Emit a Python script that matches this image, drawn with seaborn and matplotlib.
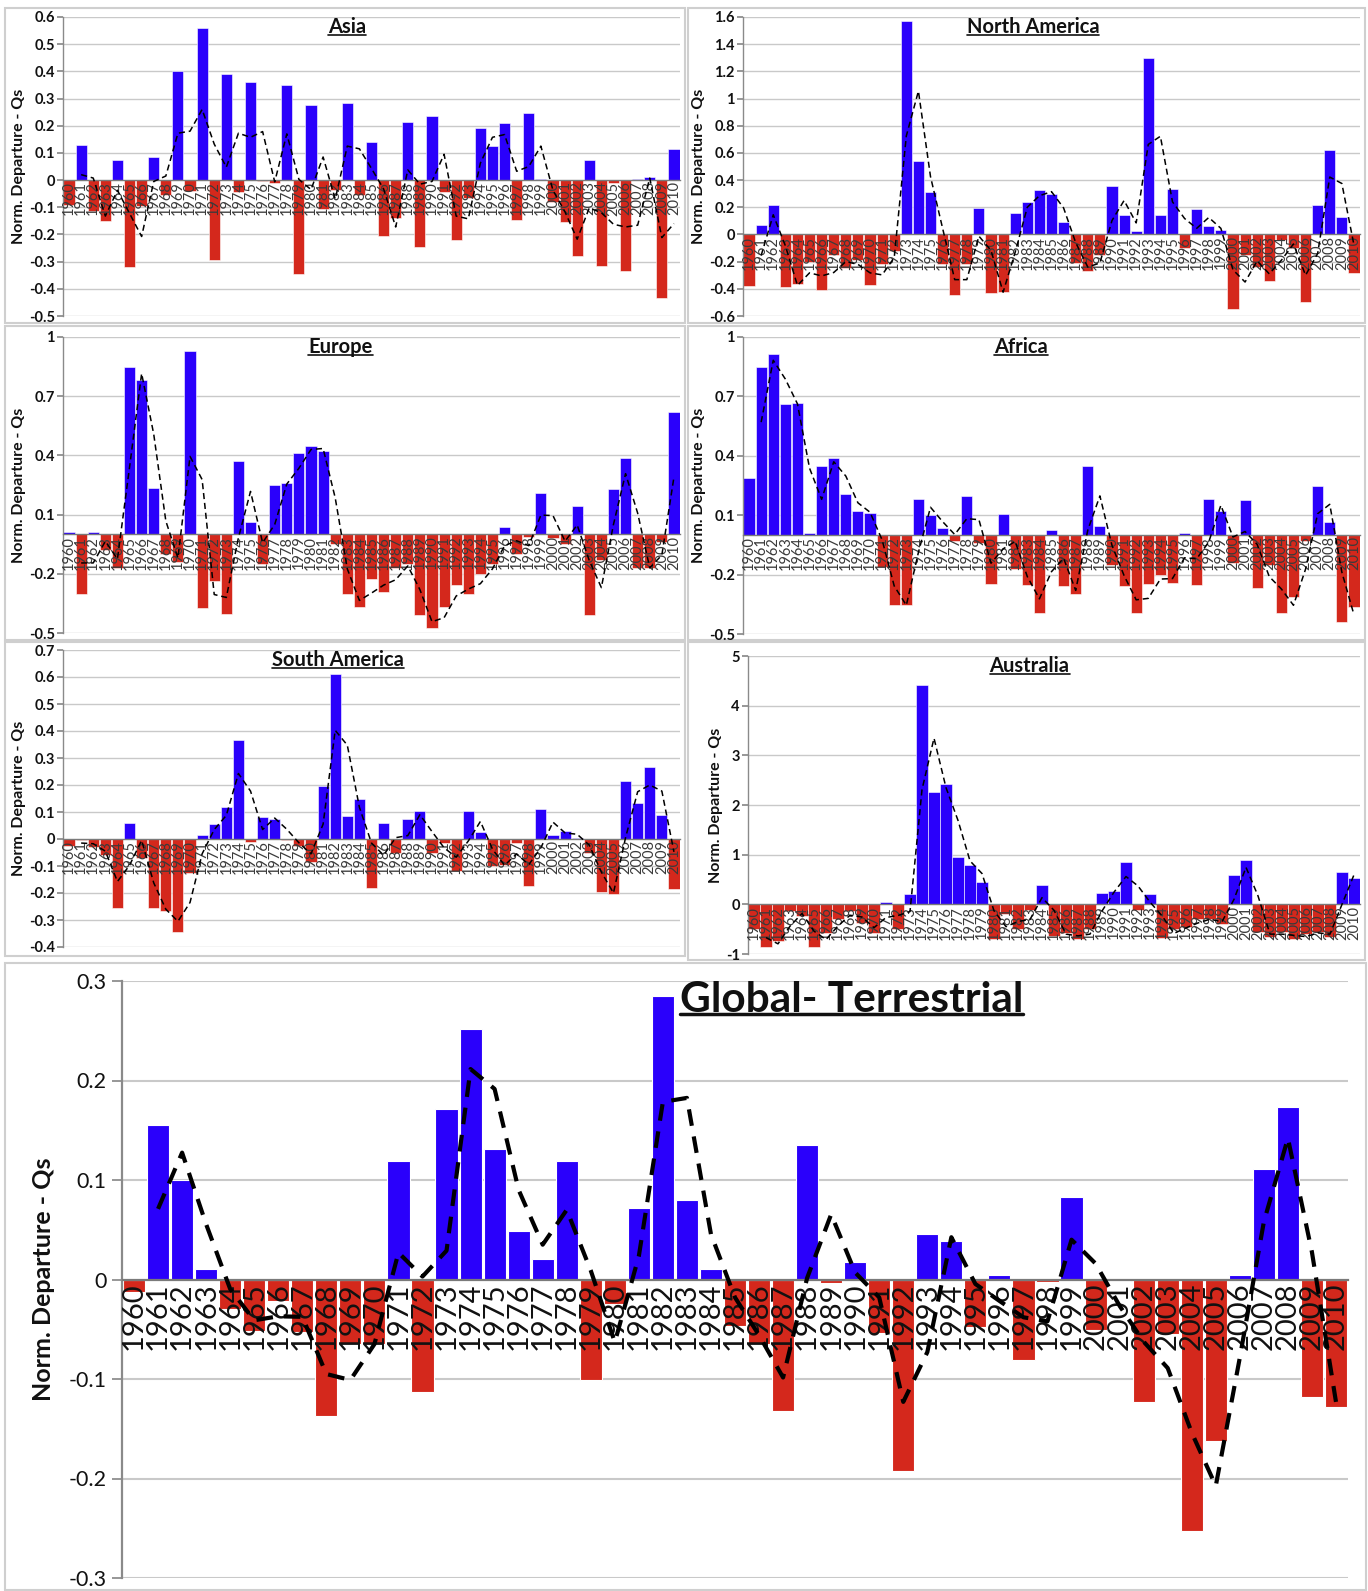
import numpy as np
import pandas as pd
import matplotlib
matplotlib.use("Agg")
import matplotlib.pyplot as plt
import seaborn as sns
from matplotlib.patches import Rectangle
from matplotlib.lines import Line2D

years = list(range(1960, 2011))

asia = [-0.09, 0.13, -0.115, -0.15, 0.075, -0.32, -0.095, 0.085, -0.055, 0.40,
        -0.04, 0.56, -0.295, 0.39, -0.045, 0.36, -0.003, -0.01, 0.35, -0.345,
        0.275, -0.105, -0.035, 0.285, -0.055, 0.14, -0.205, -0.14, 0.215, -0.245,
        0.235, -0.045, -0.22, -0.065, 0.19, 0.125, 0.21, -0.145, 0.245, 0.005,
        -0.08, -0.155, -0.28, 0.075, -0.315, -0.01, -0.335, 0.003, 0.012, -0.435,
        0.115]

north_america = [-0.38, 0.07, 0.22, -0.385, -0.365, -0.2, -0.41, -0.15, -0.25, -0.19,
                 -0.375, -0.22, -0.12, 1.57, 0.54, 0.31, -0.22, -0.445, -0.22, 0.195,
                 -0.43, -0.42, 0.16, 0.24, 0.33, 0.30, 0.09, -0.21, -0.27, -0.15,
                 0.355, 0.145, 0.025, 1.30, 0.145, 0.335, -0.1, 0.19, 0.06, 0.03,
                 -0.55, -0.15, -0.24, -0.34, -0.04, -0.1, -0.5, 0.22, 0.625, 0.125,
                 -0.28]

europe = [0.01, -0.30, 0.01, -0.08, -0.17, 0.85, 0.78, 0.235, -0.10, -0.14,
          0.93, -0.375, -0.235, -0.405, 0.37, 0.065, -0.15, 0.25, 0.26, 0.41,
          0.45, 0.42, -0.05, -0.30, -0.37, -0.225, -0.29, -0.17, -0.15, -0.41,
          -0.475, -0.37, -0.255, -0.30, -0.20, -0.15, 0.035, -0.10, -0.015, 0.21,
          -0.02, -0.05, 0.145, -0.41, -0.13, 0.23, 0.385, -0.17, -0.17, -0.04,
          0.62]

africa = [0.29, 0.85, 0.915, 0.66, 0.665, 0.01, 0.35, 0.39, 0.205, 0.12,
          0.11, -0.16, -0.355, -0.355, 0.18, 0.10, 0.035, -0.03, 0.195, -0.04,
          -0.245, 0.105, -0.17, -0.25, -0.395, 0.025, -0.26, -0.30, 0.35, 0.045,
          -0.15, -0.26, -0.395, -0.245, -0.20, -0.24, 0.01, -0.25, 0.18, 0.12,
          -0.14, 0.175, -0.27, -0.15, -0.395, -0.315, -0.03, 0.245, 0.065, -0.44,
          -0.365]

south_america = [-0.025, -0.005, -0.03, -0.06, -0.255, 0.06, -0.07, -0.255, -0.265, -0.345,
                 -0.125, 0.015, 0.055, 0.12, 0.365, -0.01, 0.08, 0.075, -0.003, -0.025,
                 -0.085, 0.195, 0.61, 0.085, 0.15, -0.18, 0.06, -0.05, 0.075, 0.105,
                 -0.05, -0.015, -0.12, 0.105, 0.025, -0.10, -0.095, -0.015, -0.175, 0.11,
                 0.015, 0.03, 0.005, -0.05, -0.195, -0.205, 0.215, 0.135, 0.265, 0.09,
                 -0.185]

australia = [-0.49, -0.85, -0.74, -0.14, -0.23, -0.85, -0.57, -0.30, -0.14, -0.37,
             -0.57, 0.04, -0.49, 0.20, 4.42, 2.27, 2.43, 0.95, 0.80, 0.44,
             -0.70, -0.20, -0.49, -0.12, 0.39, -0.63, -0.57, -0.70, -0.50, 0.23,
             0.26, 0.86, -0.12, 0.21, -0.67, -0.50, -0.45, -0.30, -0.30, -0.40,
             0.60, 0.89, -0.55, -0.65, -0.55, -0.70, -0.60, -0.55, -0.65, 0.65,
             0.54]

global_terrestrial = [-0.013, 0.155, 0.100, 0.011, -0.030, -0.052, -0.022, -0.053, -0.137, -0.065,
                      -0.065, 0.119, -0.113, 0.171, 0.252, 0.131, 0.049, 0.021, 0.119, -0.101,
                      -0.025, 0.072, 0.285, 0.080, 0.011, -0.047, -0.065, -0.132, 0.135, -0.004,
                      0.018, -0.054, -0.192, 0.046, 0.039, -0.048, 0.005, -0.081, -0.003, 0.083,
                      -0.051, -0.002, -0.123, -0.055, -0.253, -0.162, 0.005, 0.111, 0.173, -0.118,
                      -0.128]

BLUE = "#2a00fb"
RED = "#d4281c"

sns.set_theme(style="white")
plt.rcParams['font.family'] = ['Lato', 'DejaVu Sans']
plt.rcParams['axes.axisbelow'] = False

fig = plt.figure(figsize=(13.68, 15.91), dpi=100)
W, H = 1368.0, 1591.0

def frac(x0, y0, x1, y1):
    return [x0 / W, 1 - y1 / H, (x1 - x0) / W, (y1 - y0) / H]

frames = [(5, 8, 685, 323), (688, 8, 1365, 323),
          (5, 326, 685, 640), (688, 326, 1365, 640),
          (5, 642, 685, 956), (688, 642, 1365, 960),
          (5, 963, 1366, 1590)]
for (x0, y0, x1, y1) in frames:
    fig.add_artist(Rectangle((x0 / W, 1 - y1 / H), (x1 - x0) / W, (y1 - y0) / H,
                             transform=fig.transFigure, fill=False,
                             edgecolor="#cfcfcf", linewidth=1.5, zorder=0))

def fmt(v):
    v = round(v, 3)
    if abs(v) < 1e-9:
        return "0"
    return f"{v:g}"

titles = []

def panel(rect, vals, title, ylim, yticks, title_x, small=True):
    ax = fig.add_axes(rect)
    df = pd.DataFrame({"year": [str(y) for y in years], "val": vals})
    df["sign"] = np.where(df["val"] >= 0, "pos", "neg")
    sns.barplot(data=df, x="year", y="val", hue="sign",
                palette={"pos": BLUE, "neg": RED}, dodge=False, width=0.92,
                saturation=1, legend=False, ax=ax,
                edgecolor="white", linewidth=0.4 if small else 0.8)
    ma = pd.Series(vals).rolling(2).mean()
    sns.lineplot(x=np.arange(len(vals)), y=ma.values, ax=ax, color="black",
                 linewidth=1.1 if small else 3.0, zorder=4)
    ax.lines[-1].set_dashes((4, 2.5) if small else (4, 2.6))
    ax.set_axisbelow(False)
    ax.set_xlim(-0.5, len(vals) - 0.5)
    ax.set_ylim(*ylim)
    ax.set_yticks(yticks)
    ax.set_yticklabels([fmt(v) for v in yticks])
    for v in yticks:
        if abs(v) > 1e-9:
            ax.axhline(v, color="#c9c9c9", linewidth=1.0 if small else 1.5, zorder=0)
    ax.grid(False)
    ax.spines["top"].set_visible(False)
    ax.spines["right"].set_visible(False)
    ax.spines["left"].set_color("#8a8a8a")
    ax.spines["bottom"].set_position(("data", 0))
    ax.spines["bottom"].set_color("#7a7a7a")
    ax.spines["bottom"].set_linewidth(1.0 if small else 1.6)
    ax.spines["left"].set_linewidth(1.0 if small else 1.6)
    ax.set_xlabel("")
    ax.set_ylabel("Norm. Departure - Qs", fontsize=11.5 if small else 18,
                  fontweight="bold", color="#111111", labelpad=2 if small else 10)
    ax.tick_params(axis="x", rotation=90, labelsize=10.5 if small else 21,
                   length=0, pad=1 if small else 2,
                   labelcolor="#3a3a3a" if small else "#111111")
    ax.tick_params(axis="y", labelsize=10.5 if small else 15.5, length=4 if small else 7,
                   direction="out", color="#8a8a8a", left=True, pad=2 if small else 4,
                   labelcolor="#111111")
    if small:
        for lab in ax.get_yticklabels():
            lab.set_fontweight("bold")
    ax.set_xticks(np.arange(-0.5, len(vals), 1.0), minor=True)
    ax.tick_params(axis="x", which="minor", length=4 if small else 8,
                   color="#8a8a8a", direction="out")
    t = ax.text(title_x, 1.0 if small else 1.0, title, transform=ax.transAxes,
                ha="center", va="top", fontsize=14.5 if small else 30.5,
                fontweight="bold", color="#111111", zorder=6)
    titles.append((t, small))
    return ax

panel(frac(63, 17, 680, 316), asia, "Asia", (-0.5, 0.6),
      np.round(np.arange(-0.5, 0.61, 0.1), 2), 0.46)
panel(frac(743, 17, 1360, 316), north_america, "North America", (-0.6, 1.6),
      np.round(np.arange(-0.6, 1.61, 0.2), 2), 0.47)
panel(frac(63, 337, 680, 633), europe, "Europe", (-0.5, 1.0),
      np.round(np.arange(-0.5, 1.01, 0.3), 2), 0.45)
panel(frac(743, 337, 1360, 634), africa, "Africa", (-0.5, 1.0),
      np.round(np.arange(-0.5, 1.01, 0.3), 2), 0.45)
panel(frac(63, 650, 680, 947), south_america, "South America", (-0.4, 0.7),
      np.round(np.arange(-0.4, 0.71, 0.1), 2), 0.445)
panel(frac(748, 656, 1360, 954), australia, "Australia", (-1, 5),
      np.arange(-1, 5.1, 1.0), 0.46)
panel(frac(122, 981, 1348, 1578), global_terrestrial, "Global- Terrestrial", (-0.3, 0.3),
      np.round(np.arange(-0.3, 0.31, 0.1), 2), 0.595, small=False)

fig.canvas.draw()
r = fig.canvas.get_renderer()
inv = fig.transFigure.inverted()
for t, small in titles:
    bb = t.get_window_extent(r)
    y = bb.y0 + bb.height * 0.12
    (x0, yy), (x1, _) = inv.transform([(bb.x0, y), (bb.x1, y)])
    fig.add_artist(Line2D([x0, x1], [yy, yy], transform=fig.transFigure,
                          color="#111111", linewidth=1.2 if small else 2.5, zorder=7))

fig.savefig("out.png", dpi=100, facecolor="white")
